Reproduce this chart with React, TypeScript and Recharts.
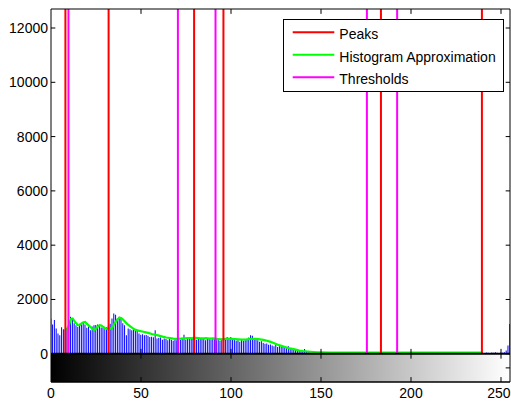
import React from 'react';
import { ComposedChart, Bar, Line, XAxis, YAxis, ReferenceLine, ReferenceArea } from 'recharts';

// Histogram counts for gray levels 0..255
const histCounts: number[] = [
  1300, 1080, 1240, 930, 750, 680, 980, 900, 900, 950,
  1100, 1360, 1300, 1120, 1050, 990, 1110, 1080, 1170, 1080,
  960, 1000, 870, 1000, 1050, 1060, 1080, 1020, 970, 960,
  900, 980, 1050, 1110, 1300, 1480, 1440, 1300, 1360, 1300,
  1120, 1050, 680, 930, 900, 870, 900, 880, 870, 750,
  700, 720, 680, 690, 660, 620, 630, 610, 870, 560,
  580, 600, 520, 560, 540, 500, 560, 520, 480, 530,
  500, 540, 520, 560, 700, 520, 560, 600, 540, 560,
  600, 520, 580, 560, 600, 540, 500, 580, 560, 520,
  580, 540, 500, 520, 480, 560, 600, 580, 620, 560,
  620, 580, 520, 480, 500, 440, 520, 480, 500, 520,
  600, 680, 660, 580, 560, 500, 440, 460, 400, 370,
  380, 330, 340, 300, 280, 320, 250, 320, 260, 280,
  220, 200, 280, 200, 180, 170, 150, 120, 140, 90,
  100, 180, 80, 60, 50, 30, 20, 10, 0, 0,
  0, 0, 0, 0, 0, 0, 0, 0, 0, 0,
  0, 0, 0, 0, 0, 0, 0, 0, 0, 0,
  0, 0, 0, 0, 0, 0, 0, 0, 0, 0,
  0, 0, 0, 0, 0, 0, 0, 0, 0, 0,
  0, 0, 0, 0, 0, 0, 0, 0, 0, 0,
  0, 0, 0, 0, 0, 0, 0, 0, 0, 0,
  0, 0, 0, 0, 0, 0, 0, 0, 0, 0,
  0, 0, 0, 0, 0, 0, 0, 0, 0, 0,
  0, 0, 0, 0, 0, 0, 0, 0, 0, 0,
  40, 30, 50, 40, 30, 50, 40, 60, 40, 30,
  50, 40, 60, 120, 300, 1100,
];

// Histogram approximation curve (gray level, value)
const approxLevels: number[] = [
  8, 9, 10, 11, 12, 13, 14, 15, 16, 17, 18, 19, 20, 21, 22, 23, 24, 25, 26, 27,
  28, 29, 30, 31, 32, 33, 34, 35, 36, 37, 38, 39, 40, 41, 42, 43, 44, 45, 46, 47,
  48, 50, 52, 54, 56, 58, 60, 62, 64, 66, 68, 70, 72, 74, 76, 78, 80, 82, 84, 86,
  88, 90, 92, 94, 96, 98, 100, 102, 104, 106, 108, 110, 112, 114, 116, 118, 120, 122, 124, 126,
  128, 130, 132, 134, 136, 138, 140, 142, 144, 146, 148, 150, 155, 239,
];
const approxValues: number[] = [
  930, 900, 1050, 1280, 1300, 1200, 1120, 1050, 1060, 1120, 1160, 1170, 1100, 1040, 980, 920, 880, 920, 1000, 1050,
  1040, 990, 940, 920, 940, 920, 960, 1080, 1180, 1270, 1330, 1320, 1260, 1190, 1120, 1060, 1010, 960, 910, 880,
  860, 830, 800, 770, 730, 700, 670, 630, 600, 580, 560, 550, 560, 570, 580, 575, 590, 575, 560, 575,
  555, 565, 550, 530, 540, 555, 550, 540, 530, 520, 525, 540, 550, 545, 530, 510, 480, 440, 390, 330,
  290, 250, 210, 180, 150, 120, 100, 85, 75, 65, 55, 50, 40, 40,
];

const peaks: number[] = [8, 32, 79.5, 95.8, 183.3, 239.4];
const thresholds: number[] = [9.7, 70.5, 91.4, 175.5, 192.3];

const xTicks: number[] = [0, 50, 100, 150, 200, 250];
const yTicks: number[] = [0, 2000, 4000, 6000, 8000, 10000, 12000];
const colorbarRightTicks: number[] = [-520];

const legendItems = [
  { label: 'Peaks', color: '#ff0000' },
  { label: 'Histogram Approximation', color: '#00ff00' },
  { label: 'Thresholds', color: '#ff00ff' },
];

const X_MIN = 0;
const X_MAX = 255;
const Y_MIN = -1040;
const Y_MAX = 12700;
const TICK_Y = 180; // tick length in data units (vertical)
const TICK_X = 2.4; // tick length in data units (horizontal)
const CHART_W = 511;

const histData = histCounts.map((c, i) => ({ level: i, count: c }));
const approxData = approxLevels.map((x, i) => ({ level: x, approx: approxValues[i] }));

const FONT = '"Liberation Sans", Arial, Helvetica, sans-serif';

const XTick = (props: any) => {
  const { x, y, payload } = props;
  const label = String(payload.value);
  const half = label.length * 7.8 * 0.5;
  const overflow = x + half > CHART_W - 0.5;
  return (
    <text
      x={overflow ? CHART_W - 0.5 : x}
      y={y + 14}
      textAnchor={overflow ? 'end' : 'middle'}
      fontFamily={FONT}
      fontSize={14}
      fill="#000"
    >
      {label}
    </text>
  );
};

const YTick = (props: any) => {
  const { x, y, payload } = props;
  return (
    <text x={x - 1} y={y + 5} textAnchor="end" fontFamily={FONT} fontSize={14} fill="#000">
      {payload.value}
    </text>
  );
};

export default function App() {
  return (
    <div style={{ position: 'relative', width: 511, height: 404 }}>
      <style>{'body{margin:0;}'}</style>
      <ComposedChart
        width={CHART_W}
        height={404}
        data={histData}
        margin={{ top: 9, right: 1, bottom: 0, left: 0 }}
      >
        <defs>
          <linearGradient id="grayRamp" x1="0" y1="0" x2="1" y2="0">
            <stop offset="0" stopColor="#000000" />
            <stop offset="1" stopColor="#ffffff" />
          </linearGradient>
        </defs>
        <XAxis
          dataKey="level"
          type="number"
          domain={[X_MIN, X_MAX]}
          ticks={xTicks}
          interval={0}
          allowDataOverflow
          axisLine={false}
          tickLine={false}
          tickSize={0}
          tickMargin={2}
          height={22}
          tick={<XTick />}
        />
        <YAxis
          type="number"
          domain={[Y_MIN, Y_MAX]}
          ticks={yTicks}
          interval={0}
          allowDataOverflow
          axisLine={false}
          tickLine={false}
          tickSize={0}
          tickMargin={2}
          width={51}
          tick={<YTick />}
        />
        <ReferenceArea
          x1={X_MIN}
          x2={X_MAX}
          y1={Y_MIN}
          y2={0}
          fill="url(#grayRamp)"
          fillOpacity={1}
          stroke="none"
          ifOverflow="visible"
        />
        <Bar dataKey="count" fill="#0000ff" barCategoryGap="5%" isAnimationActive={false} />
        <Line
          data={approxData}
          dataKey="approx"
          type="linear"
          stroke="#00ff00"
          strokeWidth={2.2}
          dot={false}
          isAnimationActive={false}
        />
        {peaks.map((p) => (
          <ReferenceLine
            key={'p' + p}
            segment={[{ x: p, y: 0 }, { x: p, y: Y_MAX }]}
            stroke="#ff0000"
            strokeWidth={2}
            ifOverflow="visible"
          />
        ))}
        {thresholds.map((t) => (
          <ReferenceLine
            key={'t' + t}
            segment={[{ x: t, y: 0 }, { x: t, y: Y_MAX }]}
            stroke="#ff00ff"
            strokeWidth={2}
            ifOverflow="visible"
          />
        ))}
        {/* frame */}
        <ReferenceLine y={Y_MAX} stroke="#000" strokeWidth={1} ifOverflow="visible" />
        <ReferenceLine y={Y_MIN} stroke="#000" strokeWidth={1.5} ifOverflow="visible" />
        <ReferenceLine y={0} stroke="#000" strokeWidth={2} ifOverflow="visible" />
        <ReferenceLine x={X_MIN} stroke="#000" strokeWidth={1} ifOverflow="visible" />
        <ReferenceLine x={X_MAX} stroke="#000" strokeWidth={1} ifOverflow="visible" />
        {/* x ticks */}
        {xTicks.filter((t) => t > X_MIN).map((t) => (
          <ReferenceLine key={'xt1' + t} segment={[{ x: t, y: Y_MAX }, { x: t, y: Y_MAX - TICK_Y }]} stroke="#000" ifOverflow="visible" />
        ))}
        {xTicks.filter((t) => t > X_MIN).map((t) => (
          <ReferenceLine key={'xt2' + t} segment={[{ x: t, y: -TICK_Y }, { x: t, y: TICK_Y }]} stroke="#000" ifOverflow="visible" />
        ))}
        {xTicks.filter((t) => t > X_MIN).map((t) => (
          <ReferenceLine key={'xt3' + t} segment={[{ x: t, y: Y_MIN }, { x: t, y: Y_MIN + TICK_Y }]} stroke="#000" ifOverflow="visible" />
        ))}
        {/* y ticks */}
        {yTicks.map((t) => (
          <ReferenceLine key={'yl' + t} segment={[{ x: X_MIN, y: t }, { x: X_MIN + TICK_X, y: t }]} stroke="#000" ifOverflow="visible" />
        ))}
        {yTicks.map((t) => (
          <ReferenceLine key={'yr' + t} segment={[{ x: X_MAX, y: t }, { x: X_MAX - TICK_X, y: t }]} stroke="#000" ifOverflow="visible" />
        ))}
        {colorbarRightTicks.map((t) => (
          <ReferenceLine key={'cr' + t} segment={[{ x: X_MAX, y: t }, { x: X_MAX - TICK_X, y: t }]} stroke="#000" ifOverflow="visible" />
        ))}
      </ComposedChart>
      <svg
        width={221}
        height={73}
        style={{ position: 'absolute', left: 283, top: 19 }}
      >
        <rect x={0.5} y={0.5} width={220} height={72} fill="#fff" stroke="#000" strokeWidth={1} />
        {legendItems.map((item, i) => (
          <g key={item.label}>
            <line
              x1={9.7}
              x2={51.3}
              y1={13.3 + i * 22.5}
              y2={13.3 + i * 22.5}
              stroke={item.color}
              strokeWidth={2}
            />
            <text x={56.3} y={20 + i * 22.5} fontFamily={FONT} fontSize={14} fill="#000">
              {item.label}
            </text>
          </g>
        ))}
      </svg>
    </div>
  );
}
